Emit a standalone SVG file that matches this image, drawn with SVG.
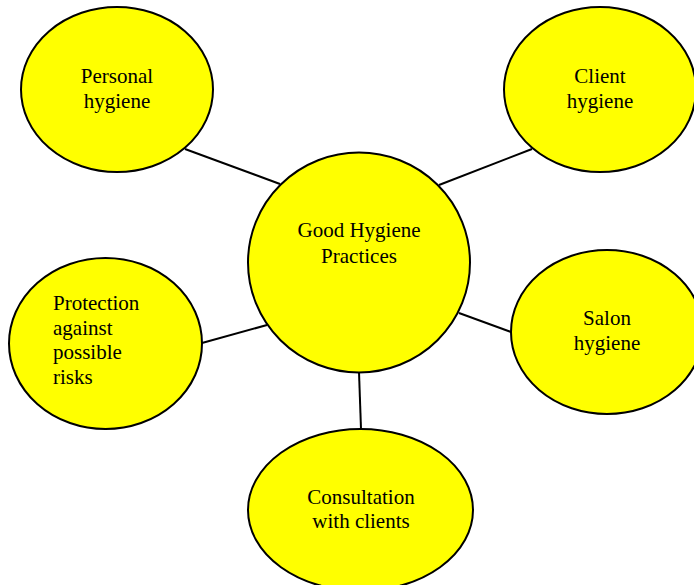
<svg xmlns="http://www.w3.org/2000/svg" width="694" height="585" viewBox="0 0 694 585">
<style>
.n{fill:#FFFF00;stroke:#000;stroke-width:2}
.c line{stroke:#000;stroke-width:2}
text{font-family:"Liberation Serif","Times New Roman",serif;font-size:21px;fill:#000}
.m{text-anchor:middle}
</style>
<rect width="694" height="585" fill="#fff"/>
<g class="c" id="connectors">
<line x1="185" y1="149" x2="280" y2="184"/>
<line x1="532" y1="149" x2="439" y2="185"/>
<line x1="202" y1="343" x2="267" y2="325"/>
<line x1="459" y1="313" x2="511" y2="332"/>
<line x1="359" y1="372" x2="361" y2="429"/>
</g>
<g id="center">
<ellipse class="n" cx="359" cy="262.5" rx="111" ry="110"/>
<text class="m" x="359" y="237">Good Hygiene</text>
<text class="m" x="359" y="263">Practices</text>
</g>
<g id="personal">
<ellipse class="n" cx="117" cy="89.5" rx="96" ry="82.5"/>
<text class="m" x="117" y="83">Personal</text>
<text class="m" x="117" y="108">hygiene</text>
</g>
<g id="client">
<ellipse class="n" cx="600" cy="89.5" rx="96" ry="82.5"/>
<text class="m" x="600" y="83">Client</text>
<text class="m" x="600" y="108">hygiene</text>
</g>
<g id="protection">
<ellipse class="n" cx="105.5" cy="343.5" rx="96.5" ry="85.5"/>
<text x="53" y="310">Protection</text>
<text x="53" y="334.5">against</text>
<text x="53" y="359">possible</text>
<text x="53" y="383.5">risks</text>
</g>
<g id="salon">
<ellipse class="n" cx="607" cy="332" rx="96" ry="82"/>
<text class="m" x="607" y="325">Salon</text>
<text class="m" x="607" y="350">hygiene</text>
</g>
<g id="consultation">
<ellipse class="n" cx="360.5" cy="510" rx="112.5" ry="81"/>
<text class="m" x="361" y="504">Consultation</text>
<text class="m" x="361" y="528">with clients</text>
</g>
</svg>
